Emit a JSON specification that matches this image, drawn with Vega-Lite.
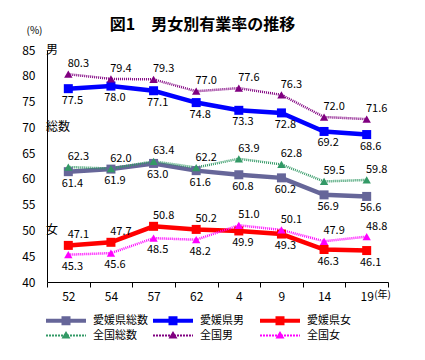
{
  "$schema": "https://vega.github.io/schema/vega-lite/v6.json",
  "width": 341,
  "height": 232,
  "autosize": {"type": "none"},
  "padding": {"left": 47, "top": 50, "right": 37, "bottom": 78},
  "background": "white",
  "title": {"text": "図1　男女別有業率の推移", "fontSize": 16, "fontWeight": "bold", "anchor": "middle", "dx": -15, "offset": -8, "color": "black"},
  "datasets": {
    "rates": [
      {"year": "52", "series": "愛媛県総数", "value": 61.4},
      {"year": "54", "series": "愛媛県総数", "value": 61.9},
      {"year": "57", "series": "愛媛県総数", "value": 63.0},
      {"year": "62", "series": "愛媛県総数", "value": 61.6},
      {"year": "4", "series": "愛媛県総数", "value": 60.8},
      {"year": "9", "series": "愛媛県総数", "value": 60.2},
      {"year": "14", "series": "愛媛県総数", "value": 56.9},
      {"year": "19", "series": "愛媛県総数", "value": 56.6},
      {"year": "52", "series": "愛媛県男", "value": 77.5},
      {"year": "54", "series": "愛媛県男", "value": 78.0},
      {"year": "57", "series": "愛媛県男", "value": 77.1},
      {"year": "62", "series": "愛媛県男", "value": 74.8},
      {"year": "4", "series": "愛媛県男", "value": 73.3},
      {"year": "9", "series": "愛媛県男", "value": 72.8},
      {"year": "14", "series": "愛媛県男", "value": 69.2},
      {"year": "19", "series": "愛媛県男", "value": 68.6},
      {"year": "52", "series": "愛媛県女", "value": 47.1},
      {"year": "54", "series": "愛媛県女", "value": 47.7},
      {"year": "57", "series": "愛媛県女", "value": 50.8},
      {"year": "62", "series": "愛媛県女", "value": 50.2},
      {"year": "4", "series": "愛媛県女", "value": 49.9},
      {"year": "9", "series": "愛媛県女", "value": 49.3},
      {"year": "14", "series": "愛媛県女", "value": 46.3},
      {"year": "19", "series": "愛媛県女", "value": 46.1},
      {"year": "52", "series": "全国総数", "value": 62.3},
      {"year": "54", "series": "全国総数", "value": 62.0},
      {"year": "57", "series": "全国総数", "value": 63.4},
      {"year": "62", "series": "全国総数", "value": 62.2},
      {"year": "4", "series": "全国総数", "value": 63.9},
      {"year": "9", "series": "全国総数", "value": 62.8},
      {"year": "14", "series": "全国総数", "value": 59.5},
      {"year": "19", "series": "全国総数", "value": 59.8},
      {"year": "52", "series": "全国男", "value": 80.3},
      {"year": "54", "series": "全国男", "value": 79.4},
      {"year": "57", "series": "全国男", "value": 79.3},
      {"year": "62", "series": "全国男", "value": 77.0},
      {"year": "4", "series": "全国男", "value": 77.6},
      {"year": "9", "series": "全国男", "value": 76.3},
      {"year": "14", "series": "全国男", "value": 72.0},
      {"year": "19", "series": "全国男", "value": 71.6},
      {"year": "52", "series": "全国女", "value": 45.3},
      {"year": "54", "series": "全国女", "value": 45.6},
      {"year": "57", "series": "全国女", "value": 48.5},
      {"year": "62", "series": "全国女", "value": 48.2},
      {"year": "4", "series": "全国女", "value": 51.0},
      {"year": "9", "series": "全国女", "value": 50.1},
      {"year": "14", "series": "全国女", "value": 47.9},
      {"year": "19", "series": "全国女", "value": 48.8}
    ],
    "notes": [
      {"text": "男", "v": 85},
      {"text": "総数", "v": 70},
      {"text": "女", "v": 50}
    ]
  },
  "data": {"name": "rates"},
  "encoding": {
    "x": {
      "field": "year", "type": "ordinal",
      "sort": ["52", "54", "57", "62", "4", "9", "14", "19"],
      "scale": {"type": "band", "paddingInner": 0, "paddingOuter": 0},
      "axis": {
        "title": "(年)", "titleX": 335, "titleY": 12, "titleAlign": "center", "titleBaseline": "middle",
        "titleFontSize": 10, "titleFontWeight": "normal", "titleColor": "black",
        "labelAngle": 0, "labelFontSize": 12, "labelColor": "black", "labelPadding": 4,
        "tickBand": "extent", "tickSize": 5, "tickColor": "black", "domainColor": "black", "grid": false
      }
    },
    "y": {
      "field": "value", "type": "quantitative",
      "scale": {"domain": [40, 85], "nice": false, "zero": false},
      "axis": {
        "title": "(%)", "titleAngle": 0, "titleX": -13, "titleY": -20, "titleAlign": "center", "titleBaseline": "middle",
        "titleFontSize": 10, "titleFontWeight": "normal", "titleColor": "black",
        "values": [40, 45, 50, 55, 60, 65, 70, 75, 80, 85],
        "ticks": false, "labelPadding": 12, "labelFontSize": 12, "labelColor": "black",
        "domainColor": "black", "grid": false
      }
    },
    "color": {
      "field": "series", "type": "nominal",
      "scale": {
        "domain": ["愛媛県総数", "愛媛県男", "愛媛県女", "全国総数", "全国男", "全国女"],
        "range": ["#666699", "#0000FF", "#FF0000", "#339966", "#800080", "#FF00FF"]
      },
      "legend": {
        "title": null, "orient": "none", "legendX": -1, "legendY": 263, "direction": "horizontal",
        "columns": 3, "gridAlign": "all", "columnPadding": 5, "rowPadding": 2, "padding": 0,
        "labelFontSize": 11, "labelColor": "black", "labelOffset": 32, "symbolSize": 225,
        "encode": {
          "symbols": {
            "update": {
              "shape": {"signal": "indexof(datum.value, '全国') === 0 ? 'M-1,-0.133H-0.733V0.133H-1Z M-0.6,-0.133H-0.333V0.133H-0.6Z M-0.2,-0.133H0.067V0.133H-0.2Z M0.2,-0.133H0.467V0.133H0.2Z M0.6,-0.133H0.867V0.133H0.6Z M1,-0.133H1.267V0.133H1Z M1.4,-0.133H1.667V0.133H1.4Z M1.8,-0.133H2.067V0.133H1.8Z M2.2,-0.133H2.467V0.133H2.2Z M2.6,-0.133H2.867V0.133H2.6Z M3,-0.133H3.267V0.133H3Z M3.4,-0.133H3.667V0.133H3.4Z M3.8,-0.133H4.067V0.133H3.8Z M4.2,-0.133H4.333V0.133H4.2Z M1.667,-0.6L2.267,0.4H1.067Z' : 'M-1,-0.267H4.333V0.267H-1Z M1.067,-0.6H2.267V0.6H1.067Z'"},
              "fill": {"scale": "color", "field": "value"},
              "strokeWidth": {"value": 0},
              "opacity": {"value": 1}
            }
          }
        }
      }
    }
  },
  "layer": [
    {
      "transform": [{"filter": "indexof(datum.series, '愛媛') === 0"}],
      "mark": {"type": "line", "strokeWidth": 4.5}
    },
    {
      "transform": [{"filter": "indexof(datum.series, '全国') === 0"}],
      "mark": {"type": "line", "strokeWidth": 2.5, "strokeDash": [1, 1]}
    },
    {
      "transform": [{"filter": "indexof(datum.series, '愛媛') === 0"}],
      "mark": {"type": "point", "shape": "square", "filled": true, "size": 81, "opacity": 1}
    },
    {
      "transform": [{"filter": "indexof(datum.series, '全国') === 0"}],
      "mark": {"type": "point", "shape": "triangle-up", "filled": true, "size": 70, "opacity": 1}
    },
    {
      "transform": [{"filter": "datum.series === '全国男' || datum.series === '全国総数' || (datum.series === '愛媛県女' && indexof(['52','54','57','62'], datum.year) >= 0) || (datum.series === '全国女' && indexof(['4','9','14','19'], datum.year) >= 0)"}],
      "mark": {"type": "text", "dx": 10, "dy": -10, "fontSize": 11, "baseline": "middle"},
      "encoding": {
        "text": {"field": "value", "type": "quantitative", "format": ".1f"},
        "color": {"value": "black"}
      }
    },
    {
      "transform": [{"filter": "!(datum.series === '全国男' || datum.series === '全国総数' || (datum.series === '愛媛県女' && indexof(['52','54','57','62'], datum.year) >= 0) || (datum.series === '全国女' && indexof(['4','9','14','19'], datum.year) >= 0))"}],
      "mark": {"type": "text", "dx": 4, "dy": 12, "fontSize": 11, "baseline": "middle"},
      "encoding": {
        "text": {"field": "value", "type": "quantitative", "format": ".1f"},
        "color": {"value": "black"}
      }
    },
    {
      "data": {"name": "notes"},
      "mark": {"type": "text", "align": "left", "baseline": "middle", "fontSize": 12, "dx": -1},
      "encoding": {
        "x": {"datum": "52", "bandPosition": 0},
        "y": {"field": "v", "type": "quantitative"},
        "text": {"field": "text"},
        "color": {"value": "black"}
      }
    }
  ],
  "config": {
    "font": "Noto Sans CJK JP",
    "view": {"stroke": null}
  }
}
